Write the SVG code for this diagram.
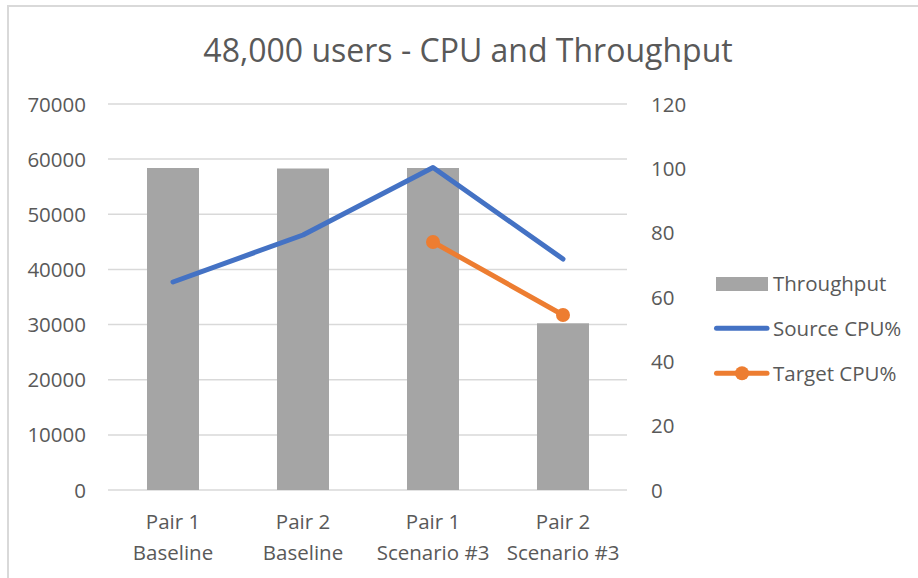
<svg xmlns="http://www.w3.org/2000/svg" width="918" height="578" viewBox="0 0 918 578">
  <style>
    text { font-family: "Open Sans", "Liberation Sans", sans-serif; fill: #595959; }
    .title { font-size: 32px; }
    .axis { font-size: 20.5px; }
    .cat { font-size: 20.5px; text-anchor: middle; }
    .legend { font-size: 20.5px; }
    .grid line { stroke: #D9D9D9; stroke-width: 1.5; }
    .bar { fill: #A5A5A5; }
    .source { fill: none; stroke: #4472C4; stroke-width: 5; stroke-linecap: round; stroke-linejoin: round; }
    .target { fill: none; stroke: #ED7D31; stroke-width: 5; stroke-linecap: round; stroke-linejoin: round; }
    .dot { fill: #ED7D31; }
  </style>

  <rect x="0" y="0" width="918" height="578" fill="#FFFFFF"/>
  <!-- chart frame -->
  <rect x="8" y="6" width="1000" height="1000" fill="none" stroke="#D9D9D9" stroke-width="2"/>

  <text class="title" x="468" y="62" text-anchor="middle">48,000 users - CPU and Throughput</text>

  <!-- horizontal gridlines -->
  <g class="grid">
    <line x1="108" y1="104" x2="627" y2="104"/>
    <line x1="108" y1="159.1" x2="627" y2="159.1"/>
    <line x1="108" y1="214.3" x2="627" y2="214.3"/>
    <line x1="108" y1="269.4" x2="627" y2="269.4"/>
    <line x1="108" y1="324.6" x2="627" y2="324.6"/>
    <line x1="108" y1="379.7" x2="627" y2="379.7"/>
    <line x1="108" y1="434.9" x2="627" y2="434.9"/>
    <line x1="108" y1="490" x2="627" y2="490"/>
  </g>

  <!-- primary axis (throughput) -->
  <g id="axis-left" class="axis" text-anchor="end">
    <text x="86" y="111.5">70000</text>
    <text x="86" y="166.6">60000</text>
    <text x="86" y="221.8">50000</text>
    <text x="86" y="276.9">40000</text>
    <text x="86" y="332.1">30000</text>
    <text x="86" y="387.2">20000</text>
    <text x="86" y="442.4">10000</text>
    <text x="86" y="497.5">0</text>
  </g>

  <!-- secondary axis (CPU %) -->
  <g id="axis-right" class="axis">
    <text x="651" y="111.5">120</text>
    <text x="651" y="175.8">100</text>
    <text x="651" y="240.1">80</text>
    <text x="651" y="304.5">60</text>
    <text x="651" y="368.8">40</text>
    <text x="651" y="433.1">20</text>
    <text x="651" y="497.5">0</text>
  </g>

  <!-- throughput bars -->
  <g id="throughput">
    <rect class="bar" x="147" y="168" width="52" height="322"/>
    <rect class="bar" x="277" y="168.5" width="52" height="321.5"/>
    <rect class="bar" x="407" y="168" width="52" height="322"/>
    <rect class="bar" x="537" y="323.3" width="52" height="166.7"/>
  </g>

  <!-- CPU series -->
  <g id="series-lines">
    <polyline class="source" points="173,282 303,235 433,167.5 563,259"/>
    <polyline class="target" points="433,242 563,315"/>
    <circle class="dot" cx="433" cy="242" r="7"/>
    <circle class="dot" cx="563" cy="315" r="7"/>
  </g>

  <!-- category labels -->
  <g id="categories" class="cat">
    <text x="173" y="529">Pair 1</text>
    <text x="173" y="560">Baseline</text>
    <text x="303" y="529">Pair 2</text>
    <text x="303" y="560">Baseline</text>
    <text x="433" y="529">Pair 1</text>
    <text x="433" y="560">Scenario #3</text>
    <text x="563" y="529">Pair 2</text>
    <text x="563" y="560">Scenario #3</text>
  </g>

  <!-- legend -->
  <g id="legend" class="legend">
    <rect class="bar" x="716" y="277" width="52" height="14"/>
    <text x="773" y="290.5">Throughput</text>
    <line class="source" x1="716.5" y1="328.3" x2="767" y2="328.3"/>
    <text x="773" y="335.5">Source CPU%</text>
    <line class="target" x1="716.5" y1="373.3" x2="767" y2="373.3"/>
    <circle class="dot" cx="742" cy="373.3" r="7"/>
    <text x="773" y="380.5">Target CPU%</text>
  </g>
</svg>
